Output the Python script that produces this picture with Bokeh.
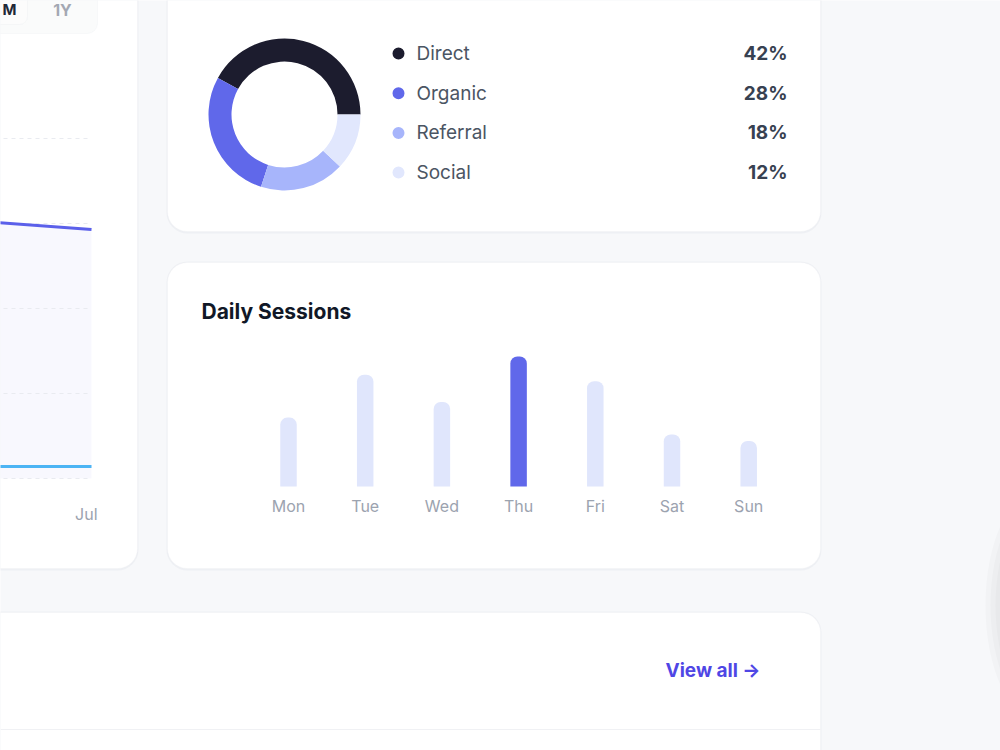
from bokeh.plotting import figure
from bokeh.models import Range1d, BoxAnnotation, ColumnDataSource
from bokeh.core.properties import value
from bokeh.embed import file_html
from bokeh.resources import INLINE
import math

# ---------------- data ----------------
sources = ["Direct", "Organic", "Referral", "Social"]
source_share = [42, 28, 18, 12]
source_colors = ["#1c1c2e", "#6068ea", "#a7b5fb", "#e1e7fd"]

days = ["Mon", "Tue", "Wed", "Thu", "Fri", "Sat", "Sun"]
sessions = [5.3, 8.6, 6.5, 10.0, 8.1, 4.0, 3.5]   # thousands
highlight_day = "Thu"

months_visible = ["Jun", "Jul"]
visits = [30.1, 29.3]       # thousands
conversions = [1.4, 1.4]    # thousands
grid_values = [0, 10, 20, 30, 40]
last_month_label = "Jul"

toggle_labels = ["M", "1Y"]

# ---------------- figure ----------------
W, H = 1000, 750
def Y(top):
    return H - top

p = figure(width=W, height=H, x_range=Range1d(0, W), y_range=Range1d(0, H),
           output_backend="svg", toolbar_location=None, min_border=0,
           x_axis_location=None, y_axis_location=None)
p.grid.visible = False
p.outline_line_color = None
p.background_fill_color = "#f7f8fa"
p.border_fill_color = "#f7f8fa"

FONT = value("Inter")

# extra ranges calibrated to the panel areas
day_px0, day_step = 288.0, 76.7
bar_base_px, bar_px_per_unit = 486.0, 13.0
p.extra_x_ranges["days"] = Range1d(-day_px0 / day_step, (W - day_px0) / day_step)
p.extra_y_ranges["sess"] = Range1d(-Y(bar_base_px) / bar_px_per_unit,
                                   (H - Y(bar_base_px)) / bar_px_per_unit)

m_last_px, m_step = 91.0, 92.0
line_base_px, line_px_per_unit = 478.0, 8.5
p.extra_x_ranges["months"] = Range1d(1 - m_last_px / m_step, 1 + (W - m_last_px) / m_step)
p.extra_y_ranges["visits"] = Range1d(-Y(line_base_px) / line_px_per_unit,
                                     (H - Y(line_base_px)) / line_px_per_unit)

# ---------------- cards ----------------
def card(l, r, t, b, radius=20):
    p.add_layout(BoxAnnotation(left=l - 1, right=r + 1, top=Y(t) + 1, bottom=Y(b) - 2,
                               fill_color="#e8eaef", fill_alpha=0.55, line_color=None,
                               border_radius=radius + 1, level="underlay"))
    p.add_layout(BoxAnnotation(left=l, right=r, top=Y(t), bottom=Y(b),
                               fill_color="white", fill_alpha=1.0, line_color="#eef0f3",
                               line_width=1, border_radius=radius, level="underlay"))

card(-60, 137, -60, 568)
card(167, 820, -60, 231)
card(167, 820, 262, 568)
card(-60, 820, 612, 820)

# divider in bottom card
p.segment(x0=[0], x1=[820], y0=[Y(729)], y1=[Y(729)], line_color="#f0f1f4", line_width=1)

# right-edge floating shadow
for k in range(8):
    p.ellipse(x=[1040], y=[Y(605)], width=[40 + 10 * k], height=[120 + 16 * k],
              fill_color="#7d808a", fill_alpha=0.04, line_color=None)

# ---------------- toggle (left card top) ----------------
p.add_layout(BoxAnnotation(left=-40, right=97, top=Y(-20), bottom=Y(33),
                           fill_color="#f3f4f6", line_color="#eceef1", border_radius=10,
                           level="underlay"))
p.add_layout(BoxAnnotation(left=-40, right=27, top=Y(-20), bottom=Y(24),
                           fill_color="white", line_color="#e9ebef", border_radius=8,
                           level="underlay"))
p.text(x=[2], y=[Y(9)], text=[toggle_labels[0]], text_font=FONT, text_font_size="15px",
       text_font_style="bold", text_color="#1f2937", text_align="left", text_baseline="middle")
p.text(x=[62], y=[Y(9)], text=[toggle_labels[1]], text_font=FONT, text_font_size="16px",
       text_font_style="bold", text_color="#a3a8b3", text_align="center", text_baseline="middle")

# ---------------- line chart (left card) ----------------
midx = list(range(len(months_visible)))
p.varea(x=midx, y1=[0] * len(midx), y2=visits, fill_color="#6366f1", fill_alpha=0.045,
        x_range_name="months", y_range_name="visits")
p.segment(x0=[-5] * len(grid_values), x1=[midx[-1]] * len(grid_values),
          y0=grid_values, y1=grid_values, line_color="#e9ebf0", line_width=1,
          line_dash="4 4", x_range_name="months", y_range_name="visits")
p.line(x=midx, y=visits, line_color="#5b60ea", line_width=3,
       x_range_name="months", y_range_name="visits")
p.line(x=midx, y=conversions, line_color="#4cb4f4", line_width=3,
       x_range_name="months", y_range_name="visits")
p.text(x=[midx[-1]], y=[Y(513)], text=[last_month_label], text_font=FONT, text_font_size="16px",
       text_color="#9ca3af", text_align="right", text_baseline="middle",
       x_offset=6, x_range_name="months")

# ---------------- donut ----------------
total = float(sum(source_share))
starts, ends = [], []
acc = 0.0
for s in source_share:
    starts.append(2 * math.pi * acc / total)
    acc += s
    ends.append(2 * math.pi * acc / total)
dsrc = ColumnDataSource(dict(name=sources, share=source_share, color=source_colors,
                             start=starts, end=ends))
p.annular_wedge(x=284, y=Y(114), inner_radius=53, outer_radius=76,
                start_angle="start", end_angle="end", direction="anticlock",
                fill_color="color", line_color=None, source=dsrc)

row_y = [Y(53 + 39.7 * i) for i in range(len(sources))]
p.scatter(x=[398] * len(sources), y=row_y, size=12, fill_color=source_colors, line_color=None)
p.text(x=[416] * len(sources), y=row_y, text=sources, text_font=FONT, text_font_size="19px",
       text_color="#4b5563", text_align="left", text_baseline="middle")
p.text(x=[787] * len(sources), y=row_y, text=[f"{v}%" for v in source_share], text_font=FONT,
       text_font_size="19px", text_font_style="bold", text_color="#374151",
       text_align="right", text_baseline="middle")

# ---------------- daily sessions bars ----------------
p.text(x=[201], y=[Y(311)], text=["Daily Sessions"], text_font=FONT, text_font_size="21px",
       text_font_style="bold", text_color="#111827", text_align="left", text_baseline="middle")
bsrc = ColumnDataSource(dict(i=list(range(len(days))), day=days, v=sessions,
                             color=["#6068ea" if d == highlight_day else "#e0e6fc" for d in days]))
p.vbar(x="i", top="v", bottom=0, width=0.215, fill_color="color", line_color=None,
       border_radius=[7, 7, 0, 0], source=bsrc, x_range_name="days", y_range_name="sess")
p.text(x="i", y=Y(505), text="day", text_font=FONT, text_font_size="16px",
       text_color="#9ca3af", text_align="center", text_baseline="middle",
       source=bsrc, x_range_name="days")

# ---------------- bottom card ----------------
p.text(x=[760], y=[Y(670)], text=["View all →"], text_font=FONT, text_font_size="19px",
       text_font_style="bold", text_color="#4f46e5", text_align="right", text_baseline="middle")

open("out.html", "w").write(file_html(p, INLINE))
